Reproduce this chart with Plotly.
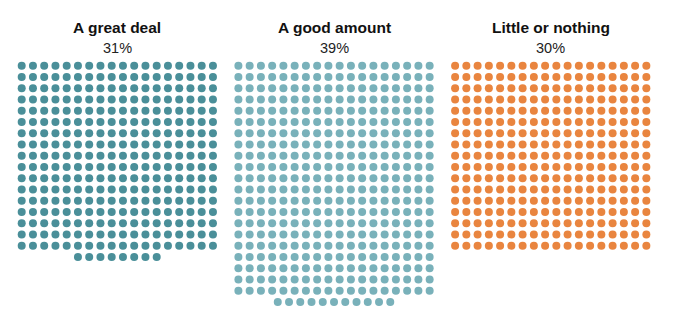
import plotly.graph_objects as go

# Survey response shares, one dot per respondent
categories = ["A great deal", "A good amount", "Little or nothing"]
share_labels = ["31%", "39%", "30%"]
dot_counts = [314, 389, 306]
colors = ["#4a8f99", "#79b1ba", "#e9853f"]

# Waffle layout (pixel-like coordinates on a fixed canvas)
COLS = 18
STEP = 11.25
PANEL_X0 = [21.7, 238.4, 455.1]
ROW_Y0 = 65.8

fig = go.Figure()

for name, label, n, color, x0 in zip(categories, share_labels, dot_counts, colors, PANEL_X0):
    xs, ys = [], []
    full_rows, rest = divmod(n, COLS)
    for r in range(full_rows):
        for c in range(COLS):
            xs.append(x0 + c * STEP)
            ys.append(ROW_Y0 + r * STEP)
    if rest:
        offset = (COLS - rest) * STEP / 2
        for c in range(rest):
            xs.append(x0 + offset + c * STEP)
            ys.append(ROW_Y0 + full_rows * STEP)
    fig.add_trace(go.Scatter(
        x=xs, y=ys, mode="markers", name=name,
        marker=dict(size=8, color=color, line=dict(width=0)),
        hoverinfo="name",
    ))
    cx = x0 + (COLS - 1) * STEP / 2
    fig.add_annotation(x=cx, y=27.5, text=f"<b>{name}</b>", showarrow=False,
                       font=dict(size=15.5, color="#111111", family="Liberation Sans, Arial"),
                       xanchor="center", yanchor="middle")
    fig.add_annotation(x=cx, y=47.5, text=label, showarrow=False,
                       font=dict(size=14.5, color="#222222", family="Liberation Sans, Arial"),
                       xanchor="center", yanchor="middle")

fig.update_layout(
    width=673, height=331,
    margin=dict(l=0, r=0, t=0, b=0),
    paper_bgcolor="white", plot_bgcolor="white",
    showlegend=False,
    xaxis=dict(range=[0, 673], visible=False, fixedrange=True),
    yaxis=dict(range=[331, 0], visible=False, fixedrange=True),
)

fig.write_html("out.html")
